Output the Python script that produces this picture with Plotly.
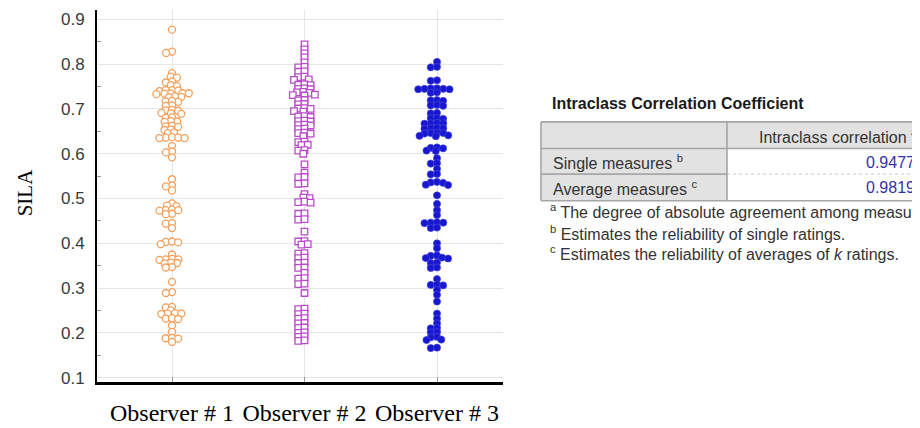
import numpy as np
import plotly.graph_objects as go

# ---------------- data ----------------
categories = ["Observer # 1", "Observer # 2", "Observer # 3"]

observer1 = [
    0.877, 0.828, 0.825, 0.780, 0.772, 0.770, 0.761, 0.759, 0.753, 0.751,
    0.742, 0.741, 0.740, 0.742, 0.735, 0.734, 0.733, 0.735, 0.734, 0.727,
    0.728, 0.726, 0.717, 0.716, 0.718, 0.708, 0.707, 0.697, 0.698, 0.696,
    0.690, 0.689, 0.691, 0.680, 0.681, 0.672, 0.673, 0.671, 0.661, 0.662,
    0.660, 0.653, 0.654, 0.646, 0.647, 0.636, 0.635, 0.637, 0.636, 0.635,
    0.617, 0.605, 0.603, 0.592, 0.543, 0.529, 0.527, 0.518, 0.489, 0.483,
    0.484, 0.474, 0.475, 0.473, 0.474, 0.466, 0.465, 0.444, 0.445, 0.434,
    0.403, 0.404, 0.402, 0.398, 0.375, 0.364, 0.365, 0.363, 0.364, 0.356,
    0.357, 0.355, 0.347, 0.346, 0.314, 0.291, 0.289, 0.257, 0.258, 0.250,
    0.243, 0.244, 0.242, 0.243, 0.232, 0.233, 0.231, 0.217, 0.202, 0.188,
    0.189, 0.187, 0.180,
]

observer2 = [
    0.844, 0.833, 0.824, 0.815, 0.804, 0.793, 0.794, 0.783, 0.784, 0.771,
    0.772, 0.765, 0.766, 0.754, 0.755, 0.753, 0.745, 0.746, 0.744, 0.737,
    0.738, 0.736, 0.731, 0.732, 0.730, 0.719, 0.720, 0.710, 0.711, 0.701,
    0.702, 0.700, 0.694, 0.695, 0.683, 0.684, 0.682, 0.673, 0.674, 0.672,
    0.664, 0.665, 0.663, 0.655, 0.656, 0.646, 0.647, 0.645, 0.639, 0.626,
    0.627, 0.619, 0.620, 0.607, 0.608, 0.600, 0.576, 0.558, 0.547, 0.548,
    0.534, 0.533, 0.510, 0.501, 0.502, 0.492, 0.493, 0.491, 0.466, 0.467,
    0.453, 0.454, 0.426, 0.404, 0.405, 0.397, 0.398, 0.377, 0.378, 0.367,
    0.368, 0.356, 0.357, 0.345, 0.346, 0.334, 0.321, 0.322, 0.309, 0.310,
    0.289, 0.253, 0.254, 0.242, 0.243, 0.232, 0.233, 0.221, 0.222, 0.211,
    0.212, 0.200, 0.201, 0.191, 0.192, 0.182, 0.183,
]

observer3 = [
    0.805, 0.793, 0.794, 0.763, 0.764, 0.745, 0.746, 0.744, 0.745, 0.746,
    0.744, 0.736, 0.737, 0.719, 0.720, 0.718, 0.708, 0.709, 0.707, 0.690,
    0.691, 0.679, 0.680, 0.678, 0.668, 0.669, 0.667, 0.668, 0.657, 0.658,
    0.656, 0.657, 0.646, 0.647, 0.645, 0.646, 0.640, 0.641, 0.639, 0.613,
    0.614, 0.612, 0.606, 0.607, 0.590, 0.578, 0.579, 0.566, 0.554, 0.555,
    0.536, 0.537, 0.535, 0.530, 0.531, 0.507, 0.488, 0.474, 0.463, 0.446,
    0.447, 0.445, 0.446, 0.434, 0.435, 0.400, 0.389, 0.372, 0.373, 0.367,
    0.368, 0.366, 0.356, 0.357, 0.345, 0.346, 0.320, 0.307, 0.308, 0.306,
    0.296, 0.285, 0.270, 0.243, 0.232, 0.221, 0.210, 0.211, 0.201, 0.202,
    0.190, 0.191, 0.184, 0.185, 0.166, 0.167,
]

icc_rows = ["Single measures", "Average measures"]
icc_row_marks = ["b", "c"]
icc_values = ["0.9477", "0.9819"]
icc_header = "Intraclass correlation"
icc_title = "Intraclass Correlation Coefficient"
footnotes = [
    ("a", "The degree of absolute agreement among measures."),
    ("b", "Estimates the reliability of single ratings."),
    ("c", "Estimates the reliability of averages of <i>k</i> ratings."),
]

# ---------------- layout geometry ----------------
# The page body has an 8px margin, so the figure is made 8px smaller and
# reference pixel positions are shifted by that amount.
OFF = 8
W, H = 920 - OFF, 428 - OFF
PLOT_L, PLOT_R, PLOT_T, PLOT_B = 97, 503, 10, 387   # reference pixels
X_RANGE = [-0.566, 2.498]
Y_RANGE = [0.0912, 0.921]
PX_PER_X = (PLOT_R - PLOT_L) / (X_RANGE[1] - X_RANGE[0])
PX_PER_Y = (PLOT_B - PLOT_T) / (Y_RANGE[1] - Y_RANGE[0])


def px(xr):
    return (xr - OFF) / W


def py(yr):
    return 1 - (yr - OFF) / H


def swarm_offsets(vals, dx=6.3, dy=3.7):
    """Beeswarm offsets (in x-axis units) so markers do not overlap."""
    ypx = np.asarray(vals, dtype=float) * PX_PER_Y
    order = np.argsort(-ypx, kind="stable")
    placed = []
    xs = np.zeros(len(vals))
    for i in order:
        y = ypx[i]
        cands = [0.0]
        for cx, cy in placed:
            t = (y - cy) / dy
            if abs(t) < 1:
                w = dx * np.sqrt(1 - t * t)
                cands += [cx - w, cx + w]
        cands.sort(key=lambda c: (abs(c), c))
        for c in cands:
            if all(((c - cx) / dx) ** 2 + ((y - cy) / dy) ** 2 >= 0.998 for cx, cy in placed):
                xs[i] = c
                break
        placed.append((xs[i], y))
    return xs / PX_PER_X


series = [
    (observer1, dict(symbol="circle", size=7, color="white",
                     line=dict(color="#F5A05A", width=1.3))),
    (observer2, dict(symbol="square", size=6.5, color="white",
                     line=dict(color="#B84CC8", width=1.3))),
    (observer3, dict(symbol="circle", size=7.2, color="#1717D2",
                     line=dict(color="#4A4AD6", width=0.6))),
]

fig = go.Figure()
for idx, (vals, mk) in enumerate(series):
    off = swarm_offsets(vals)
    fig.add_trace(go.Scatter(
        x=idx + off, y=vals, mode="markers", marker=mk,
        name=categories[idx], showlegend=False, hoverinfo="y",
    ))

serif = "Liberation Serif, Times New Roman, serif"
sans = "Liberation Sans, Arial, sans-serif"

fig.update_layout(
    width=W, height=H, autosize=False,
    margin=dict(l=0, r=0, t=0, b=0),
    paper_bgcolor="white", plot_bgcolor="white",
    xaxis=dict(
        domain=[px(PLOT_L), px(PLOT_R)], range=X_RANGE,
        tickmode="array", tickvals=[0, 1, 2], ticktext=categories,
        tickfont=dict(family=serif, size=24, color="black"),
        showgrid=True, gridcolor="#E6E6E6", gridwidth=1,
        showline=True, linecolor="black", linewidth=2.5,
        zeroline=False, ticks="inside", ticklen=5, tickcolor="#999",
        ticklabelstandoff=8, fixedrange=True,
    ),
    yaxis=dict(
        domain=[py(PLOT_B), py(PLOT_T)], range=Y_RANGE,
        tickmode="linear", tick0=0.1, dtick=0.1, tickformat=".1f",
        tickfont=dict(family=sans, size=17, color="#3A3A3A"),
        showgrid=True, gridcolor="#E6E6E6", gridwidth=1,
        showline=True, linecolor="black", linewidth=2,
        zeroline=False, ticks="", ticklabelstandoff=7,
        minor=dict(ticks="inside", ticklen=4, tickcolor="#999", dtick=0.05,
                   tick0=0.05, showgrid=False),
        fixedrange=True,
    ),
)

# y-axis title
fig.add_annotation(text="SILA", x=px(25), y=py(195), xref="paper", yref="paper",
                   xanchor="center", yanchor="middle",
                   showarrow=False, textangle=-90,
                   font=dict(family=serif, size=21, color="black"))

# ---------------- ICC table ----------------
T_L, T_C, T_R = 541, 727, 950
T_TOP, T_HDR, T_ROW1, T_BOT = 123.5, 150.5, 176.5, 203.5
grey = "#E2E2E2"
border = "#A6A6A6"

shapes = [
    dict(type="rect", xref="paper", yref="paper", x0=px(T_L), x1=px(T_R),
         y0=py(T_HDR), y1=py(T_TOP), fillcolor=grey, line=dict(width=0)),
    dict(type="rect", xref="paper", yref="paper", x0=px(T_L), x1=px(T_C),
         y0=py(T_BOT), y1=py(T_HDR), fillcolor=grey, line=dict(width=0)),
]
for yy in (T_TOP, T_HDR, T_BOT):
    shapes.append(dict(type="line", xref="paper", yref="paper", x0=px(T_L), x1=px(T_R),
                       y0=py(yy), y1=py(yy), line=dict(color=border, width=1.6)))
shapes.append(dict(type="line", xref="paper", yref="paper", x0=px(T_L), x1=px(T_C),
                   y0=py(T_ROW1), y1=py(T_ROW1), line=dict(color=border, width=1.6)))
shapes.append(dict(type="line", xref="paper", yref="paper", x0=px(T_C), x1=px(T_R),
                   y0=py(T_ROW1), y1=py(T_ROW1), line=dict(color="#C8C8C8", width=1, dash="dot")))
for xx in (T_L, T_C):
    shapes.append(dict(type="line", xref="paper", yref="paper", x0=px(xx), x1=px(xx),
                       y0=py(T_BOT), y1=py(T_TOP), line=dict(color=border, width=1.6)))
fig.update_layout(shapes=shapes)

txt = "#333333"
fig.add_annotation(text=f"<b>{icc_title}</b>", x=px(550), y=py(104.5), xref="paper", yref="paper",
                   xanchor="left", yanchor="middle", showarrow=False,
                   font=dict(family=sans, size=16, color="#1A1A1A"))
fig.add_annotation(text=f"{icc_header} <sup>a</sup>", x=px(920), y=py(138), xref="paper", yref="paper",
                   xanchor="right", yanchor="middle", showarrow=False,
                   font=dict(family=sans, size=16, color=txt))
row_y = [164.5, 190.5]
for name, mark, val, yy in zip(icc_rows, icc_row_marks, icc_values, row_y):
    fig.add_annotation(text=f"{name} <sup>{mark}</sup>", x=px(551), y=py(yy), xref="paper", yref="paper",
                       xanchor="left", yanchor="middle", showarrow=False,
                       font=dict(family=sans, size=16, color=txt))
    fig.add_annotation(text=val, x=px(917), y=py(yy), xref="paper", yref="paper",
                       xanchor="right", yanchor="middle", showarrow=False,
                       font=dict(family=sans, size=16, color="#3333AA"))
foot_y = [214, 236, 257]
for (mark, line), yy in zip(footnotes, foot_y):
    fig.add_annotation(text=f"<sup>{mark}</sup> {line}", x=px(548), y=py(yy), xref="paper", yref="paper",
                       xanchor="left", yanchor="middle", showarrow=False,
                       font=dict(family=sans, size=16, color=txt))

fig.write_html("out.html")
